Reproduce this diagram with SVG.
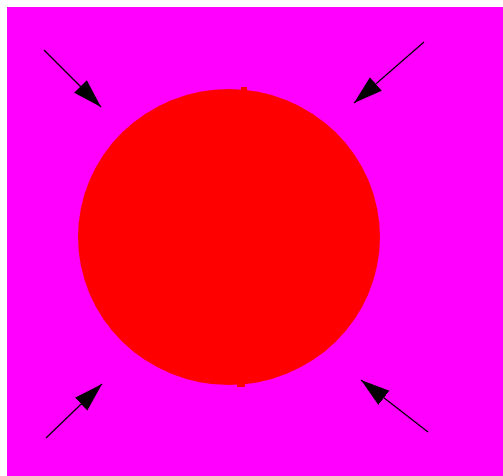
<svg xmlns="http://www.w3.org/2000/svg" width="503" height="476" viewBox="0 0 503 476">
<defs>
<marker id="ah" markerUnits="userSpaceOnUse" markerWidth="32" markerHeight="22" viewBox="0 -11 32 22" refX="29" refY="0" orient="auto">
<path d="M0,-9 L29,0 L0,9 z" fill="#000"/>
</marker>
<style>
.c{stroke:#000;stroke-width:1.2;fill:none;marker-end:url(#ah)}
</style>
</defs>
<rect width="503" height="476" fill="#fff"/>
<rect x="7" y="7" width="496" height="469" fill="#ff00ff"/>
<g id="sphere">
<ellipse cx="229" cy="237" rx="151" ry="148" fill="#ff0000"/>
<rect x="241" y="87" width="6" height="4" fill="#ff0000"/>
<rect x="237" y="383" width="8" height="4" fill="#ff0000"/>
</g>
<g id="connectors">
<line class="c" x1="44" y1="50" x2="101" y2="107"/>
<line class="c" x1="424" y1="42" x2="354" y2="103"/>
<line class="c" x1="46" y1="438" x2="102" y2="384"/>
<line class="c" x1="428" y1="432" x2="361" y2="380"/>
</g>
</svg>
